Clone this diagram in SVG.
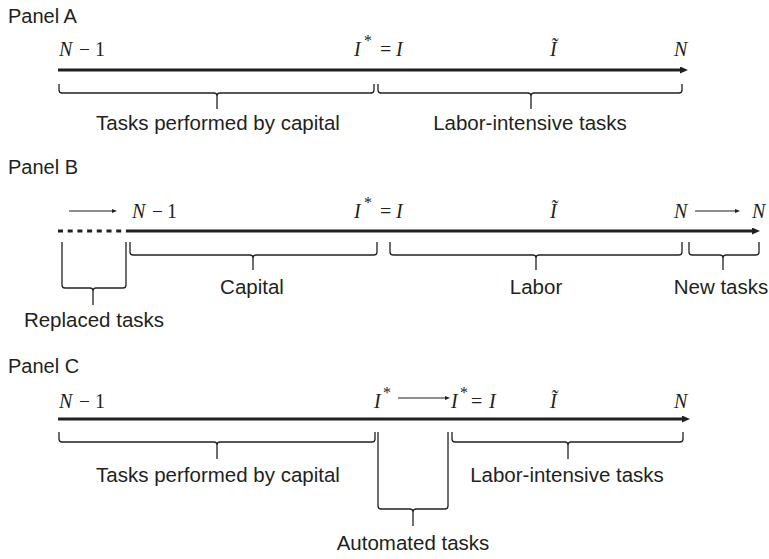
<svg xmlns="http://www.w3.org/2000/svg" width="769" height="559" viewBox="0 0 769 559">
<defs>
<style>
.panel{font-family:"Liberation Sans",Arial,sans-serif;font-size:20px;fill:#231f20}
.lbl{font-family:"Liberation Sans",Arial,sans-serif;font-size:20.5px;fill:#231f20;text-anchor:middle}
.m{font-family:"Liberation Serif","Times New Roman",serif;font-size:20px;fill:#231f20;font-style:italic}
.r{font-style:normal}
.st{font-family:"Liberation Serif","Times New Roman",serif;font-size:16px;fill:#231f20}
.axis{stroke:#231f20;stroke-width:2.8;fill:none}
.dash{stroke:#231f20;stroke-width:2.8;fill:none;stroke-dasharray:5 4.7}
.thin{stroke:#231f20;stroke-width:1.1;fill:none}
.brace{stroke:#231f20;stroke-width:1.3;fill:none}
</style>
<marker id="ah" markerUnits="userSpaceOnUse" markerWidth="9" markerHeight="8" refX="1" refY="3.5" orient="auto">
<path d="M0,0 L8,3.5 L0,7 z" fill="#231f20"/>
</marker>
<marker id="sh" markerUnits="userSpaceOnUse" markerWidth="6" markerHeight="5" refX="1" refY="2" orient="auto">
<path d="M0,0 L5,2 L0,4 z" fill="#231f20"/>
</marker>
</defs>
<rect width="769" height="559" fill="#ffffff"/>

<g id="connectors">
<line class="axis" x1="58" y1="70" x2="681" y2="70" marker-end="url(#ah)"/>
<line class="dash" x1="58" y1="231" x2="128" y2="231"/>
<line class="axis" x1="128" y1="231" x2="753" y2="231" marker-end="url(#ah)"/>
<line class="thin" x1="69" y1="211" x2="113" y2="211" marker-end="url(#sh)"/>
<line class="thin" x1="695" y1="211" x2="736" y2="211" marker-end="url(#sh)"/>
<line class="axis" x1="58" y1="419" x2="683" y2="419" marker-end="url(#ah)"/>
<line class="thin" x1="398" y1="398" x2="446" y2="398" marker-end="url(#sh)"/>
</g>

<g id="panelA">
<text class="panel" x="8" y="23">Panel A</text>
<g id="A-ticks">
<text class="m" x="59" y="56">N</text>
<text class="m r" x="79" y="56" textLength="11" lengthAdjust="spacingAndGlyphs">−</text>
<text class="m r" x="95" y="56">1</text>
<text class="m" y="56"><tspan x="354">I</tspan><tspan class="r" x="380">=</tspan><tspan x="396">I</tspan></text>
<text class="st" x="364" y="46">*</text>
<text class="m" x="550" y="56">Ĩ</text>
<text class="m" x="674" y="56">N</text>
</g>
<g id="A-capital">
<path class="brace" d="M59,84 L59,90 Q59,93 62,93 L214,93 Q217,93 217,96 L217,109 M217,96 Q217,93 220,93 L371,93 Q374,93 374,90 L374,84"/>
<text class="lbl" x="218" y="130">Tasks performed by capital</text>
</g>
<g id="A-labor">
<path class="brace" d="M378,84 L378,90 Q378,93 381,93 L528,93 Q531,93 531,96 L531,109 M531,96 Q531,93 534,93 L679,93 Q682,93 682,90 L682,84"/>
<text class="lbl" x="530" y="130">Labor-intensive tasks</text>
</g>
</g>

<g id="panelB">
<text class="panel" x="8" y="174">Panel B</text>
<g id="B-ticks">
<text class="m" x="132" y="218">N</text>
<text class="m r" x="152" y="218" textLength="11" lengthAdjust="spacingAndGlyphs">−</text>
<text class="m r" x="167" y="218">1</text>
<text class="m" y="218"><tspan x="354">I</tspan><tspan class="r" x="380">=</tspan><tspan x="396">I</tspan></text>
<text class="st" x="364" y="208">*</text>
<text class="m" x="550" y="218">Ĩ</text>
<text class="m" x="674" y="218">N</text>
<text class="m" x="752" y="218">N</text>
</g>
<g id="B-replaced">
<path class="brace" d="M62,242 L62,285 Q62,288 65,288 L90,288 Q93,288 93,291 L93,305 M93,291 Q93,288 96,288 L123,288 Q126,288 126,285 L126,242"/>
<text class="lbl" x="94" y="327">Replaced tasks</text>
</g>
<g id="B-capital">
<path class="brace" d="M130,242 L130,252 Q130,255 133,255 L250,255 Q253,255 253,258 L253,270 M253,258 Q253,255 256,255 L374,255 Q377,255 377,252 L377,242"/>
<text class="lbl" x="252" y="294">Capital</text>
</g>
<g id="B-labor">
<path class="brace" d="M390,242 L390,252 Q390,255 393,255 L533,255 Q536,255 536,258 L536,270 M536,258 Q536,255 539,255 L679,255 Q682,255 682,252 L682,242"/>
<text class="lbl" x="536" y="294">Labor</text>
</g>
<g id="B-new">
<path class="brace" d="M689,242 L689,252 Q689,255 692,255 L720,255 Q723,255 723,258 L723,270 M723,258 Q723,255 726,255 L756,255 Q759,255 759,252 L759,242"/>
<text class="lbl" x="721" y="294">New tasks</text>
</g>
</g>

<g id="panelC">
<text class="panel" x="8" y="373">Panel C</text>
<g id="C-ticks">
<text class="m" x="59" y="408">N</text>
<text class="m r" x="79" y="408" textLength="11" lengthAdjust="spacingAndGlyphs">−</text>
<text class="m r" x="95" y="408">1</text>
<text class="m" x="374" y="408">I</text>
<text class="st" x="383" y="398">*</text>
<text class="m" y="408"><tspan x="451">I</tspan><tspan class="r" x="471">=</tspan><tspan x="489">I</tspan></text>
<text class="st" x="460" y="398">*</text>
<text class="m" x="550" y="408">Ĩ</text>
<text class="m" x="674" y="408">N</text>
</g>
<g id="C-capital">
<path class="brace" d="M59,432 L59,439 Q59,442 62,442 L214,442 Q217,442 217,445 L217,459 M217,445 Q217,442 220,442 L372,442 Q375,442 375,439 L375,432"/>
<text class="lbl" x="218" y="482">Tasks performed by capital</text>
</g>
<g id="C-automated">
<path class="brace" d="M378,432 L378,506 Q378,509 381,509 L410,509 Q413,509 413,512 L413,526 M413,512 Q413,509 416,509 L445,509 Q448,509 448,506 L448,432"/>
<text class="lbl" x="413" y="550">Automated tasks</text>
</g>
<g id="C-labor">
<path class="brace" d="M452,432 L452,439 Q452,442 455,442 L565,442 Q568,442 568,445 L568,459 M568,445 Q568,442 571,442 L680,442 Q683,442 683,439 L683,432"/>
<text class="lbl" x="567" y="482">Labor-intensive tasks</text>
</g>
</g>
</svg>
